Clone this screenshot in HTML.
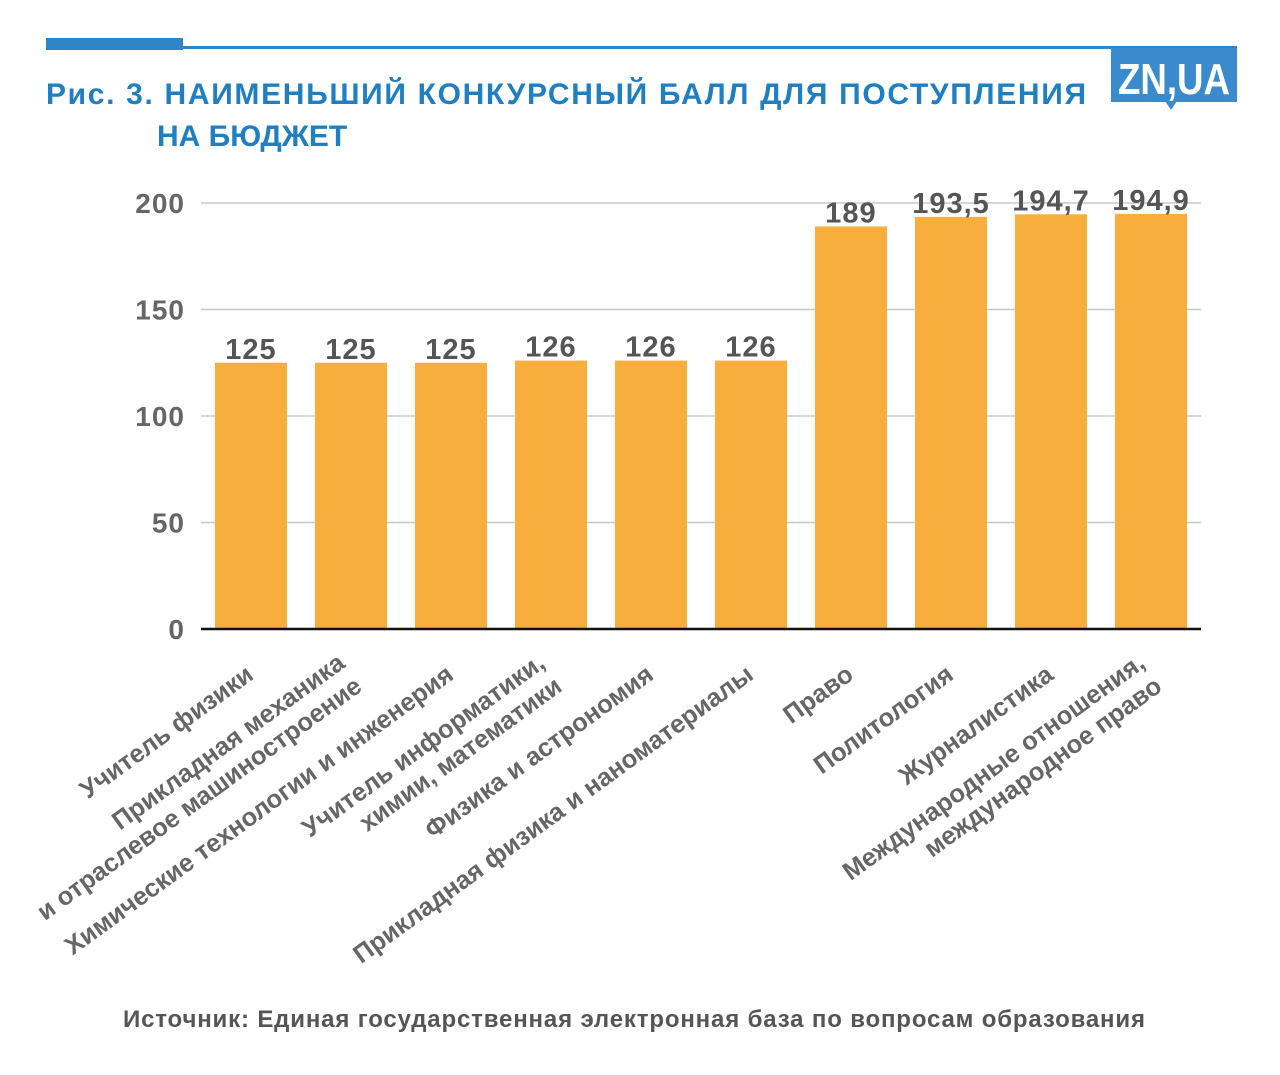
<!DOCTYPE html>
<html><head><meta charset="utf-8"><style>
body{margin:0;background:#fff;width:1280px;height:1070px;overflow:hidden;font-family:"Liberation Sans",sans-serif}
</style></head><body>
<svg width="1280" height="1070">
<rect x="46" y="38" width="137" height="12" fill="#2f86c6"/>
<rect x="46" y="46" width="1191" height="3" fill="#2f86c6"/>
<g>
<rect x="1111" y="48" width="126" height="54" fill="#3a8bce"/>
<polygon points="1165,101 1177,101 1171,110" fill="#3a8bce"/>
<text x="1118" y="94" font-size="44" font-weight="bold" fill="#fff" textLength="112" lengthAdjust="spacingAndGlyphs">ZN,UA</text>
</g>
<text x="46" y="104" font-size="30" font-weight="bold" fill="#1f7fc2" textLength="1040">Рис. 3. НАИМЕНЬШИЙ КОНКУРСНЫЙ БАЛЛ ДЛЯ ПОСТУПЛЕНИЯ</text>
<text x="157" y="146" font-size="30" font-weight="bold" fill="#1f7fc2">НА БЮДЖЕТ</text>
<g id="plot"></g>
<text x="634" y="1027" text-anchor="middle" font-size="24" font-weight="bold" fill="#555" textLength="1022">Источник: Единая государственная электронная база по вопросам образования</text>
</svg>
<script>
const categories=[["Учитель физики"],["Прикладная механика","и отраслевое машиностроение"],["Химические технологии и инженерия"],["Учитель информатики,","химии, математики"],["Физика и астрономия"],["Прикладная физика и наноматериалы"],["Право"],["Политология"],["Журналистика"],["Международные отношения,","международное право"]];
const values=[125,125,125,126,126,126,189,193.5,194.7,194.9];
const valueLabels=["125","125","125","126","126","126","189","193,5","194,7","194,9"];
const yTicks=[0,50,100,150,200];
const NS="http://www.w3.org/2000/svg";
const g=document.getElementById('plot');
const x0=201,band=100,y0=629,yTop=203,yMax=200;
const y=v=>y0-(v/yMax)*(y0-yTop);
const xc=i=>x0+band*i+band/2;
function mk(t,a){const e=document.createElementNS(NS,t);for(const k in a)e.setAttribute(k,a[k]);g.appendChild(e);return e;}
yTicks.forEach(t=>{
 if(t>0){const l=mk('line',{x1:x0,x2:1201,y1:y(t),y2:y(t),stroke:'#c8c8c8','stroke-width':1.5});
 
 }
 const tx=mk('text',{x:185,y:y(t)+10,'text-anchor':'end','font-size':28,'font-weight':'bold',fill:'#666','letter-spacing':1});
 tx.textContent=t;
 
 
});
values.forEach((v,i)=>{
 const r=mk('rect',{x:xc(i)-36,y:y(v),width:72,height:y0-y(v),fill:'#f8ae3c'});
 
 
 const t=mk('text',{x:xc(i),y:y(v)-4,'text-anchor':'middle','font-size':29,'font-weight':'bold',fill:'#555','letter-spacing':1});
 t.textContent=valueLabels[i];
 
 
 const lines=categories[i],n=lines.length;
 const gr=mk('g',{transform:`translate(${xc(i)+4},${678}) rotate(-36)`});
 
 
 lines.forEach((s,j)=>{const tt=document.createElementNS(NS,'text');
  tt.setAttribute('x',0);tt.setAttribute('y',(j-(n-1)/2)*29);
  tt.setAttribute('text-anchor','end');tt.setAttribute('font-size',25.5);tt.setAttribute('font-weight','bold');tt.setAttribute('fill','#666');
  tt.textContent=s;gr.appendChild(tt);});
});
const ax=mk('line',{x1:x0,x2:1201,y1:y0,y2:y0,stroke:'#111','stroke-width':2.5});


</script>
</body></html>
